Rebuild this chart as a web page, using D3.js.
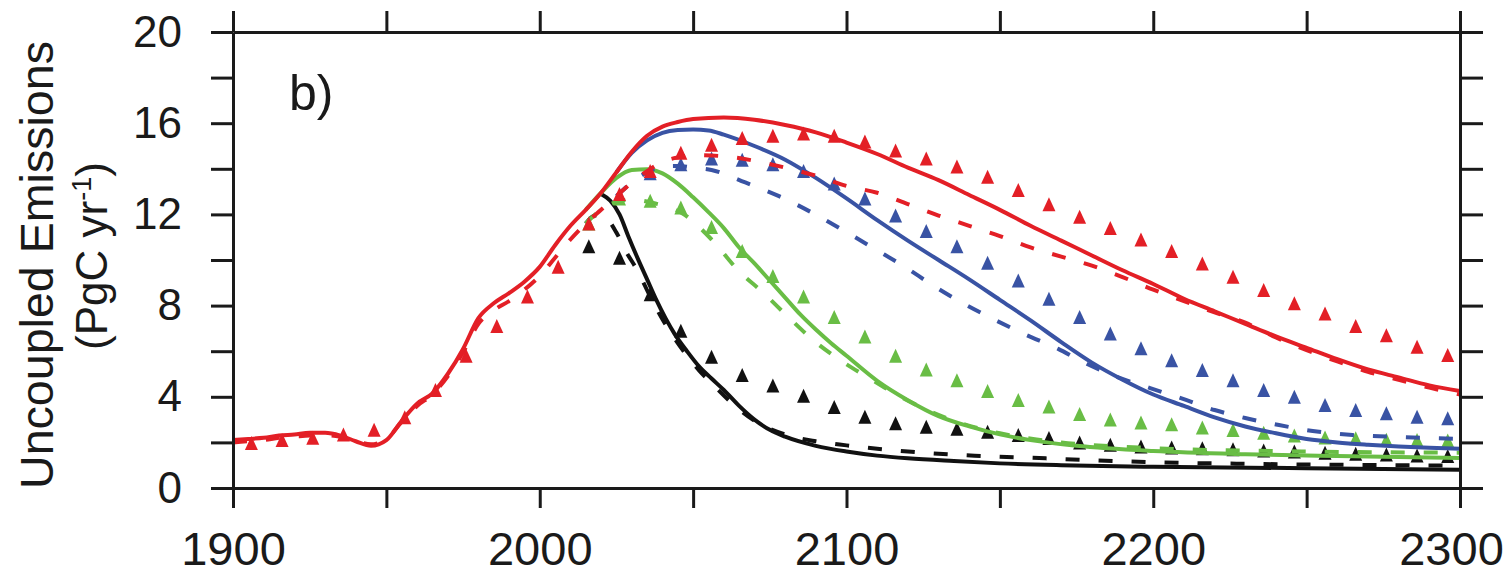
<!DOCTYPE html>
<html>
<head>
<meta charset="utf-8">
<script src="https://cdn.jsdelivr.net/npm/d3@7"></script>
<style>
  html, body { margin: 0; padding: 0; background: #fff; }
  svg { display: block; }
  text { font-family: "Liberation Sans", Arial, Helvetica, sans-serif; fill: #1a1a1a; }
</style>
</head>
<body>
<svg id="chart" width="1508" height="576"></svg>
<script>
// ---------------- DATA ----------------
const xTickValues = [1900, 1950, 2000, 2050, 2100, 2150, 2200, 2250, 2300];
const xTickLabels = ["1900", "", "2000", "", "2100", "", "2200", "", "2300"];
const yTickValues = [0, 2, 4, 6, 8, 10, 12, 14, 16, 18, 20];
const yTickLabels = ["0", "", "4", "", "8", "", "12", "", "16", "", "20"];

// Red scenario (includes the shared historical period)
const redSolidYears = [1900,1905,1910,1915,1920,1925,1930,1935,1940,1945,1950,1955,1960,1965,1970,1975,1980,1985,1990,1995,2000,2005,2010,2015,2020,2025,2030,2035,2040,2045,2050,2060,2070,2080,2090,2100,2110,2120,2130,2140,2150,2160,2170,2180,2190,2200,2210,2220,2230,2240,2250,2260,2270,2280,2290,2300];
const redSolid = [2.1,2.15,2.2,2.3,2.35,2.42,2.42,2.3,2.05,1.85,2.1,2.95,3.7,4.15,5.0,6.1,7.45,8.1,8.55,9.05,9.7,10.65,11.5,12.2,12.95,13.85,14.75,15.45,15.85,16.05,16.18,16.25,16.15,15.92,15.6,15.15,14.65,14.05,13.5,12.85,12.2,11.5,10.85,10.2,9.55,8.95,8.3,7.75,7.2,6.65,6.15,5.65,5.2,4.85,4.5,4.25];
const redDashedYears = redSolidYears;
const redDashed = [2.0,2.05,2.1,2.2,2.25,2.3,2.32,2.25,2.05,1.92,2.15,2.9,3.6,4.1,4.9,5.95,7.2,7.8,8.2,8.7,9.3,10.1,10.9,11.6,12.2,12.8,13.4,13.9,14.3,14.5,14.6,14.55,14.35,14.05,13.7,13.25,12.95,12.45,11.95,11.5,11.05,10.55,10.15,9.75,9.25,8.7,8.2,7.7,7.25,6.6,6.05,5.55,5.1,4.75,4.4,4.1];
const redTriYears = [1906,1916,1926,1936,1946,1956,1966,1976,1986,1996,2006,2016,2026,2036,2046,2056,2066,2076,2086,2096,2106,2116,2126,2136,2146,2156,2166,2176,2186,2196,2206,2216,2226,2236,2246,2256,2266,2276,2286,2296];
const redTri = [1.97,2.1,2.2,2.35,2.55,3.1,4.3,5.8,7.1,8.4,9.7,11.6,12.9,13.9,14.7,15.05,15.35,15.45,15.55,15.45,15.2,14.8,14.45,14.1,13.65,13.07,12.45,11.9,11.4,10.9,10.4,9.85,9.27,8.68,8.1,7.65,7.1,6.7,6.2,5.83];

// Blue scenario
const blueSolidYears = [2025,2030,2035,2040,2045,2050,2055,2060,2070,2080,2090,2100,2110,2120,2130,2140,2150,2160,2170,2180,2190,2200,2210,2220,2230,2240,2250,2260,2270,2280,2290,2300];
const blueSolid = [13.85,14.7,15.25,15.58,15.7,15.72,15.68,15.5,15.0,14.4,13.6,12.7,11.75,10.85,10.0,9.15,8.25,7.35,6.4,5.5,4.75,4.1,3.6,3.1,2.7,2.4,2.15,2.0,1.9,1.82,1.76,1.72];
const blueDashedYears = [2025,2030,2035,2040,2045,2050,2056,2067,2078,2089,2099,2109,2119,2128,2138,2148,2158,2169,2178,2188,2199,2209,2220,2230,2241,2252,2265,2277,2290,2300];
const blueDashed = [12.8,13.4,13.85,14.1,14.12,14.05,13.95,13.4,12.8,12.06,11.3,10.5,9.7,8.9,8.1,7.4,6.75,6.1,5.47,4.88,4.38,3.94,3.42,3.07,2.76,2.5,2.32,2.25,2.19,2.15];
const blueTriYears = [2036,2046,2056,2066,2076,2086,2096,2106,2116,2126,2136,2146,2156,2166,2176,2186,2196,2206,2216,2226,2236,2246,2256,2266,2276,2286,2296];
const blueTri = [13.8,14.2,14.45,14.4,14.2,13.9,13.35,12.7,11.95,11.27,10.6,9.88,9.1,8.3,7.5,6.78,6.13,5.6,5.17,4.73,4.3,4.0,3.64,3.42,3.28,3.13,3.06];

// Green scenario
const greenSolidYears = [2015,2020,2025,2030,2035,2040,2045,2050,2055,2060,2065,2070,2075,2080,2085,2090,2095,2100,2110,2120,2130,2140,2150,2160,2175,2200,2230,2260,2300];
const greenSolid = [12.2,12.95,13.6,13.95,13.98,13.8,13.35,12.75,12.1,11.4,10.55,9.85,9.1,8.35,7.6,6.95,6.35,5.8,4.7,3.85,3.15,2.7,2.35,2.1,1.85,1.62,1.48,1.4,1.32];
const greenDashedYears = [2015,2020,2025,2030,2037,2047,2056,2065,2073,2081,2089,2098,2107,2115,2125,2135,2150,2170,2200,2250,2300];
const greenDashed = [11.6,12.2,12.55,12.65,12.5,12.0,10.9,9.5,8.55,7.5,6.5,5.6,4.85,4.2,3.5,2.95,2.4,2.0,1.75,1.6,1.55];
const greenTriYears = [2016,2026,2036,2046,2056,2066,2076,2086,2096,2106,2116,2126,2136,2146,2156,2166,2176,2186,2196,2206,2216,2226,2236,2246,2256,2266,2276,2286,2296];
const greenTri = [11.6,12.7,12.6,12.3,11.45,10.4,9.3,8.4,7.5,6.65,5.8,5.2,4.73,4.25,3.86,3.57,3.25,3.0,2.87,2.8,2.65,2.54,2.42,2.3,2.22,2.18,2.12,2.1,2.08];

// Black scenario
const blackSolidYears = [2020,2023,2026,2029,2032,2035,2038,2041,2044,2048,2052,2056,2060,2065,2070,2075,2080,2090,2100,2110,2120,2135,2150,2170,2200,2250,2300];
const blackSolid = [12.9,12.6,12.0,11.0,10.05,9.15,8.25,7.45,6.75,6.0,5.32,4.8,4.3,3.6,3.0,2.55,2.25,1.85,1.6,1.42,1.3,1.18,1.08,1.0,0.93,0.87,0.8];
const blackDashedYears = [2015,2018,2021,2025,2028,2032,2036,2040,2044,2048,2052,2056,2062,2070,2080,2090,2100,2110,2120,2130,2145,2165,2180,2200,2225,2250,2300];
const blackDashed = [11.6,11.95,11.9,11.2,10.4,9.5,8.4,7.4,6.55,5.8,5.15,4.6,3.8,2.95,2.35,2.05,1.87,1.72,1.6,1.5,1.4,1.3,1.22,1.13,1.07,1.03,0.98];
const blackTriYears = greenTriYears;
const blackTri = [10.6,10.1,8.5,6.9,5.76,4.96,4.5,4.05,3.55,3.13,2.84,2.69,2.6,2.47,2.32,2.19,2.0,1.9,1.82,1.78,1.74,1.7,1.65,1.6,1.55,1.5,1.47,1.43,1.4];

const panelLabel = "b)";
const yTitle1 = "Uncoupled Emissions";

// ---------------- CHART ----------------
const svg = d3.select("#chart");
const x = d3.scaleLinear().domain([1900, 2300]).range([233, 1460]);
const y = d3.scaleLinear().domain([0, 20]).range([488, 32]);

const zip = (xs, ys) => xs.map((v, i) => [v, ys[i]]);

const scenarios = [
  { color: "#111111", solid: zip(blackSolidYears, blackSolid), dashed: zip(blackDashedYears, blackDashed), tri: zip(blackTriYears, blackTri) },
  { color: "#69bd45", solid: zip(greenSolidYears, greenSolid), dashed: zip(greenDashedYears, greenDashed), tri: zip(greenTriYears, greenTri) },
  { color: "#3953a4", solid: zip(blueSolidYears, blueSolid), dashed: zip(blueDashedYears, blueDashed), tri: zip(blueTriYears, blueTri) },
  { color: "#e31f26", solid: zip(redSolidYears, redSolid), dashed: zip(redDashedYears, redDashed), tri: zip(redTriYears, redTri) }
];

svg.append("defs").append("clipPath").attr("id", "plotclip")
  .append("rect").attr("x", x(1900)).attr("y", y(20)).attr("width", x(2300) - x(1900)).attr("height", y(0) - y(20));

const line = d3.line().x(d => x(d[0])).y(d => y(d[1])).curve(d3.curveMonotoneX);

const triangle = {
  draw(ctx, size) {
    const w = 13, h = 14;
    ctx.moveTo(0, -h / 2);
    ctx.lineTo(w / 2, h / 2);
    ctx.lineTo(-w / 2, h / 2);
    ctx.closePath();
  }
};
const sym = d3.symbol().type(triangle);

const plot = svg.append("g").attr("clip-path", "url(#plotclip)");
scenarios.forEach(s => {
  const g = plot.append("g");
  g.selectAll("path.tri").data(s.tri).join("path")
    .attr("class", "tri")
    .attr("d", sym)
    .attr("transform", d => `translate(${x(d[0])},${y(d[1])})`)
    .attr("fill", s.color);
  g.append("path").datum(s.dashed)
    .attr("d", line).attr("fill", "none").attr("stroke", s.color)
    .attr("stroke-width", 4).attr("stroke-dasharray", "14,19");
  g.append("path").datum(s.solid)
    .attr("d", line).attr("fill", "none").attr("stroke", s.color)
    .attr("stroke-width", 4).attr("stroke-linejoin", "round");
});

// Axes
const axisColor = "#1a1a1a";
function styleAxis(g) {
  g.selectAll(".domain").attr("stroke", axisColor).attr("stroke-width", 3);
  g.selectAll(".tick line").attr("stroke", axisColor).attr("stroke-width", 3);
  g.selectAll(".tick text").attr("fill", axisColor)
    .style("font-family", '"Liberation Sans", Arial, Helvetica, sans-serif');
}

svg.append("g").attr("transform", `translate(0,${y(0)})`)
  .call(d3.axisBottom(x).tickValues(xTickValues).tickSize(20).tickSizeOuter(0).tickPadding(24)
    .tickFormat((d, i) => xTickLabels[i]))
  .call(styleAxis)
  .call(g => g.selectAll(".tick text").style("font-size", "47px")
    .attr("dx", d => d === 2300 ? -9 : 0));

svg.append("g").attr("transform", `translate(0,${y(20)})`)
  .call(d3.axisTop(x).tickValues(xTickValues).tickSize(21).tickSizeOuter(0).tickFormat(() => ""))
  .call(styleAxis);

svg.append("g").attr("transform", `translate(${x(1900)},0)`)
  .call(d3.axisLeft(y).tickValues(yTickValues).tickSize(22).tickSizeOuter(0).tickPadding(29)
    .tickFormat((d, i) => yTickLabels[i]))
  .call(styleAxis)
  .call(g => g.selectAll(".tick text").style("font-size", "44px"));

svg.append("g").attr("transform", `translate(${x(2300)},0)`)
  .call(d3.axisRight(y).tickValues(yTickValues).tickSize(23).tickSizeOuter(0).tickFormat(() => ""))
  .call(styleAxis);

// Panel label
svg.append("text").attr("x", 289).attr("y", 110)
  .style("font-size", "50px").text(panelLabel);

// Y axis title
const yt1 = svg.append("g").attr("transform", `translate(0,265) rotate(-90)`);
yt1.append("text").attr("x", 0).attr("y", 53).attr("text-anchor", "middle")
  .attr("textLength", 448).attr("lengthAdjust", "spacingAndGlyphs")
  .style("font-size", "47px").text(yTitle1);
const yt2 = svg.append("g").attr("transform", `translate(0,256) rotate(-90)`);
const t2 = yt2.append("text").attr("x", 0).attr("y", 107).attr("text-anchor", "middle")
  .style("font-size", "44px");
t2.append("tspan").text("(PgC yr");
t2.append("tspan").attr("dy", -16).style("font-size", "27px").text("-1");
t2.append("tspan").attr("dy", 16).text(")");
</script>
</body>
</html>
